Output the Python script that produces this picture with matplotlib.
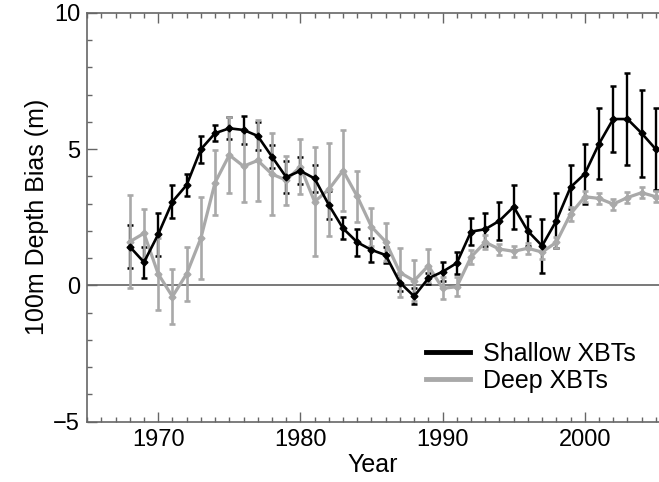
import numpy as np
import matplotlib
matplotlib.use('Agg')
import matplotlib.pyplot as plt
from matplotlib.lines import Line2D

plt.rcParams['font.family'] = ['Liberation Sans', 'DejaVu Sans']

# Data
years = list(range(1968, 2006))

shallow = [1.42, 0.85, 1.87, 3.07, 3.68, 4.99, 5.58, 5.76, 5.70, 5.48,
           4.72, 3.97, 4.20, 3.92, 2.95, 2.09, 1.58, 1.30, 1.11, 0.10,
           -0.40, 0.26, 0.50, 0.82, 1.97, 2.06, 2.37, 2.88, 1.99, 1.45,
           2.37, 3.60, 4.09, 5.19, 6.10, 6.10, 5.58, 4.99]
shallow_err = [0.78, 0.57, 0.80, 0.60, 0.40, 0.50, 0.30, 0.40, 0.50, 0.50,
               0.43, 0.60, 0.50, 0.50, 0.50, 0.40, 0.50, 0.45, 0.30, 0.30,
               0.30, 0.20, 0.35, 0.40, 0.50, 0.60, 0.70, 0.80, 0.55, 1.00,
               1.00, 0.80, 1.10, 1.30, 1.20, 1.70, 1.60, 1.50]

deep = [1.60, 1.91, 0.42, -0.41, 0.42, 1.73, 3.77, 4.78, 4.37, 4.58,
        4.08, 3.86, 4.35, 3.07, 3.52, 4.21, 3.26, 2.15, 1.60, 0.47,
        0.17, 0.72, -0.11, -0.05, 1.04, 1.58, 1.33, 1.25, 1.36, 1.22,
        1.58, 2.62, 3.25, 3.19, 2.98, 3.22, 3.40, 3.25]
deep_err = [1.70, 0.90, 1.33, 1.00, 1.00, 1.50, 1.20, 1.40, 1.30, 1.50,
            1.50, 0.90, 1.00, 2.00, 1.70, 1.50, 0.95, 0.70, 0.70, 0.90,
            0.75, 0.60, 0.40, 0.35, 0.25, 0.25, 0.20, 0.20, 0.20, 0.25,
            0.20, 0.25, 0.20, 0.20, 0.20, 0.20, 0.20, 0.20]

black = '#000000'
gray = '#a9a9a9'
axis_col = '#666666'

fig = plt.figure(figsize=(6.59, 4.82), dpi=100)
ax = fig.add_axes([87.1 / 659, 1 - 421.7 / 482, 1 - 87.1 / 659, (421.7 - 12.7) / 482])

ax.axhline(0, color='#555555', lw=1.1, zorder=1)

# shallow error bars underneath, deep series on top, shallow line on top
ax.errorbar(years, shallow, yerr=shallow_err, fmt='none', ecolor=black,
            elinewidth=1.7, capsize=2.4, capthick=1.8, zorder=2)
ax.errorbar(years, deep, yerr=deep_err, fmt='-D', color=gray, ecolor=gray,
            lw=2.3, ms=3.5, elinewidth=1.9, capsize=2.4, capthick=1.9,
            zorder=3)
ax.plot(years, shallow, '-D', color=black, lw=1.9, ms=3.5, zorder=4)

ax.set_xlim(1965, 2005.22)
ax.set_ylim(-5, 10)
ax.set_xticks([1970, 1980, 1990, 2000])
ax.set_xticks(np.arange(1965, 2006), minor=True)
ax.set_yticks([-5, 0, 5, 10])
ax.set_yticks(np.arange(-5, 11), minor=True)

for s in ['left', 'bottom', 'top']:
    ax.spines[s].set_color(axis_col)
    ax.spines[s].set_linewidth(1.2)
ax.spines['right'].set_visible(False)

ax.tick_params(which='both', direction='in', top=True, right=False,
               color=axis_col, width=1.0, labelsize=17, pad=5)
ax.tick_params(which='major', length=7)
ax.tick_params(which='minor', length=3.5)

ax.set_xlabel('Year', fontsize=18, labelpad=2)
ax.set_ylabel('100m Depth Bias (m)', fontsize=18, labelpad=3)

handles = [Line2D([], [], color=black, lw=3.5),
           Line2D([], [], color=gray, lw=3.5)]
labels = ['Shallow XBTs', 'Deep XBTs']
ax.legend(handles, labels, loc='upper left',
          bbox_to_anchor=(426 / 659, 1 - 342 / 482),
          bbox_transform=fig.transFigure, frameon=False, fontsize=18,
          handlelength=1.75, handletextpad=0.55, labelspacing=0.12,
          borderpad=0, borderaxespad=0)

fig.savefig('out.png', dpi=100)
